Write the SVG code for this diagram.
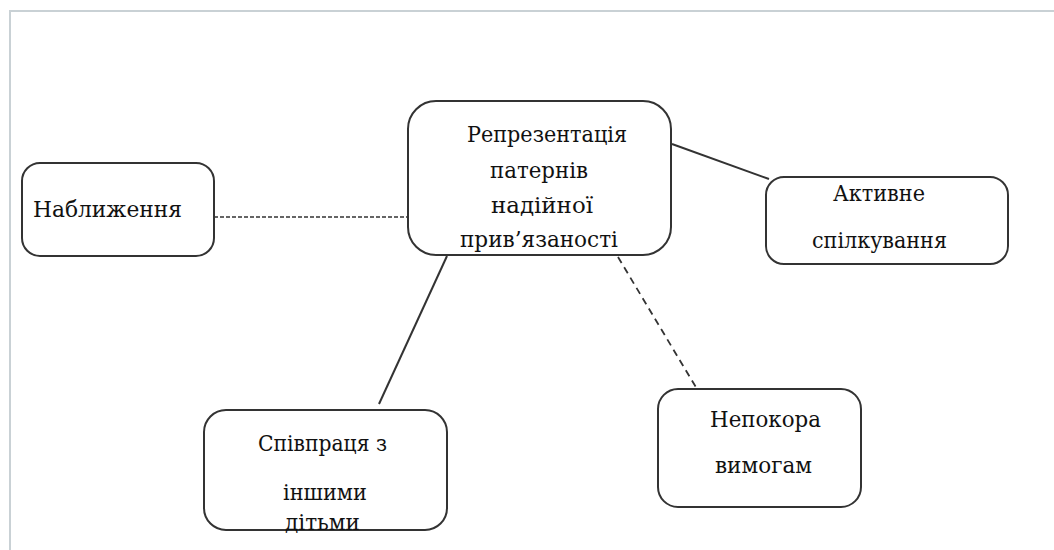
<svg xmlns="http://www.w3.org/2000/svg" width="1054" height="550" viewBox="0 0 1054 550">
<style>
.frame{fill:none;stroke:#c9d1d5;stroke-width:2}
.box{fill:#fff;stroke:#333;stroke-width:2}
.t{font-family:"DejaVu Serif","Liberation Serif",serif;font-size:22px;fill:#111}
.solid{stroke:#333;stroke-width:2;fill:none}
.dash{stroke:#333;stroke-width:1.6;fill:none;stroke-dasharray:4 2}
.dash2{stroke:#333;stroke-width:1.8;fill:none;stroke-dasharray:7 5}
</style>
<rect width="1054" height="550" fill="#fff"/>
<path class="frame" d="M10,551 V11 H1055"/>
<g id="connectors">
<line class="dash" x1="214" y1="217" x2="408" y2="217"/>
<line class="solid" x1="447" y1="256" x2="379" y2="404"/>
<line class="solid" x1="672" y1="144" x2="769" y2="179"/>
<line class="dash2" x1="618" y1="257" x2="697" y2="389"/>
</g>
<g id="center">
<rect class="box" x="408" y="101" width="263" height="154" rx="28"/>
<text class="t" x="467" y="142" textLength="160" lengthAdjust="spacingAndGlyphs">Репрезентація</text>
<text class="t" x="490" y="178" textLength="98" lengthAdjust="spacingAndGlyphs">патернів</text>
<text class="t" x="491" y="213" textLength="102" lengthAdjust="spacingAndGlyphs">надійної</text>
<text class="t" x="460" y="247" textLength="158" lengthAdjust="spacingAndGlyphs">прив’язаності</text>
</g>
<g id="node-nablyzhennia">
<rect class="box" x="22" y="163" width="192" height="93" rx="18"/>
<text class="t" x="33" y="217" textLength="149" lengthAdjust="spacingAndGlyphs">Наближення</text>
</g>
<g id="node-aktyvne">
<rect class="box" x="766" y="177" width="242" height="87" rx="18"/>
<text class="t" x="833" y="201" textLength="92" lengthAdjust="spacingAndGlyphs">Активне</text>
<text class="t" x="812" y="248" textLength="135" lengthAdjust="spacingAndGlyphs">спілкування</text>
</g>
<g id="node-nepokora">
<rect class="box" x="658" y="389" width="203" height="118" rx="20"/>
<text class="t" x="710" y="427" textLength="111" lengthAdjust="spacingAndGlyphs">Непокора</text>
<text class="t" x="715" y="473" textLength="97" lengthAdjust="spacingAndGlyphs">вимогам</text>
</g>
<g id="node-spivpratsia">
<rect class="box" x="204" y="410" width="243" height="120" rx="22"/>
<text class="t" x="258" y="451" textLength="129" lengthAdjust="spacingAndGlyphs">Співпраця з</text>
<text class="t" x="283" y="500" textLength="84" lengthAdjust="spacingAndGlyphs">іншими</text>
<text class="t" x="285" y="530" textLength="75" lengthAdjust="spacingAndGlyphs">дітьми</text>
</g>
</svg>
